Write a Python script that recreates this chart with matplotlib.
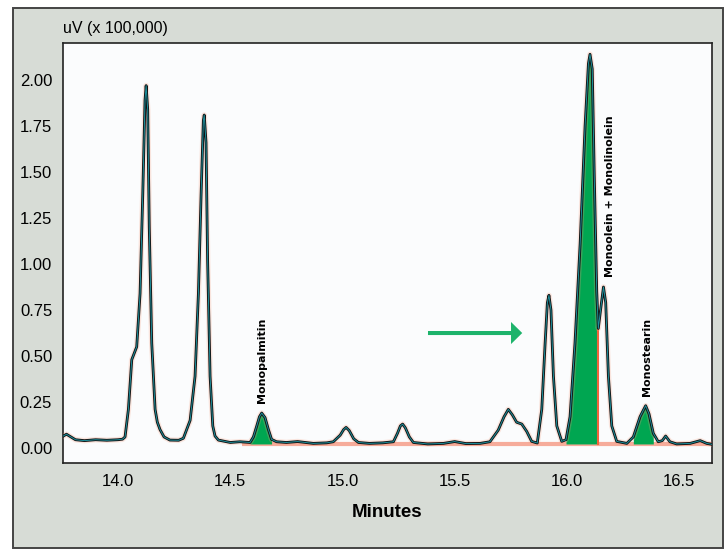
import numpy as np
import matplotlib.pyplot as plt
from matplotlib.patches import Rectangle, FancyArrow

# retention time (min) and detector signal (uV x 100,000)
time = [13.756, 13.770, 13.790, 13.810, 13.850, 13.900, 13.950, 14.000, 14.020,
        14.031, 14.046, 14.061, 14.083, 14.098, 14.110, 14.120, 14.125, 14.132,
        14.139, 14.150, 14.165, 14.175, 14.187, 14.205, 14.231, 14.270, 14.291,
        14.321, 14.343, 14.358, 14.370, 14.380, 14.384, 14.392, 14.399, 14.410,
        14.422, 14.432, 14.447, 14.500, 14.543, 14.588, 14.603, 14.618, 14.630,
        14.640, 14.655, 14.670, 14.684, 14.706, 14.750, 14.800, 14.870, 14.930,
        14.959, 14.990, 15.005, 15.016, 15.030, 15.050, 15.071, 15.120, 15.180,
        15.227, 15.245, 15.258, 15.268, 15.280, 15.298, 15.316, 15.380, 15.450,
        15.500, 15.550, 15.613, 15.657, 15.694, 15.720, 15.739, 15.757, 15.776,
        15.799, 15.821, 15.843, 15.868, 15.888, 15.903, 15.913, 15.920, 15.929,
        15.940, 15.955, 15.977, 15.996, 16.014, 16.036, 16.059, 16.081, 16.096,
        16.103, 16.113, 16.122, 16.133, 16.140, 16.151, 16.163, 16.173, 16.185,
        16.200, 16.222, 16.267, 16.296, 16.326, 16.351, 16.366, 16.385, 16.407,
        16.425, 16.440, 16.459, 16.489, 16.549, 16.594, 16.623, 16.646]
signal = [0.065, 0.075, 0.060, 0.045, 0.040, 0.045, 0.042, 0.045, 0.048,
          0.060, 0.210, 0.480, 0.550, 0.840, 1.380, 1.890, 1.970, 1.840,
          1.200, 0.570, 0.210, 0.140, 0.100, 0.060, 0.043, 0.042, 0.053,
          0.150, 0.390, 0.840, 1.380, 1.780, 1.810, 1.660, 1.020, 0.390,
          0.120, 0.065, 0.043, 0.030, 0.034, 0.030, 0.060, 0.120, 0.170,
          0.190, 0.165, 0.100, 0.047, 0.034, 0.030, 0.035, 0.025, 0.028,
          0.034, 0.070, 0.100, 0.112, 0.095, 0.050, 0.030, 0.025, 0.028,
          0.034, 0.080, 0.120, 0.130, 0.110, 0.060, 0.030, 0.022, 0.025,
          0.035, 0.024, 0.025, 0.034, 0.097, 0.170, 0.210, 0.180, 0.140,
          0.130, 0.090, 0.036, 0.027, 0.210, 0.570, 0.790, 0.830, 0.750,
          0.390, 0.120, 0.036, 0.045, 0.170, 0.570, 1.110, 1.750, 2.090,
          2.140, 2.060, 1.480, 0.850, 0.650, 0.760, 0.875, 0.790, 0.390,
          0.120, 0.036, 0.025, 0.060, 0.170, 0.230, 0.185, 0.080, 0.034,
          0.040, 0.065, 0.034, 0.022, 0.025, 0.040, 0.025, 0.020]

baseline = 0.022

# integrated peaks: start, end, name and where the name goes
peak_start = [14.588, 15.996, 16.296]
peak_end = [14.684, 16.140, 16.385]
peak_names = ['Monopalmitin', 'Monoolein + Monolinolein', 'Monostearin']
label_x = [14.64, 16.192, 16.356]
label_y = [0.245, 0.93, 0.283]

x_ticks = [14.0, 14.5, 15.0, 15.5, 16.0, 16.5]
y_ticks = [0.0, 0.25, 0.5, 0.75, 1.0, 1.25, 1.5, 1.75, 2.0]

plt.rcParams['font.family'] = ['Liberation Sans', 'DejaVu Sans']

t = np.array(time)
s = np.array(signal)

fig = plt.figure(figsize=(7.27, 5.5), dpi=100)
fig.patch.set_facecolor('white')

# grey panel behind the plot
panel = Rectangle((0.0183, 0.0036), 0.9757, 0.9814, transform=fig.transFigure,
                  facecolor='#d7dcd6', edgecolor='#444444', linewidth=1.4, zorder=-5)
fig.patches.append(panel)

ax = fig.add_axes([0.0871, 0.1587, 0.8927, 0.7626])
ax.set_zorder(1)
ax.set_facecolor('#fbfcfd')

# baseline drawn under the trace
ax.plot([14.55, 16.648], [baseline, baseline], color='#f48a72', lw=3, alpha=0.7,
        solid_capstyle='butt', zorder=2)

for a, b in zip(peak_start, peak_end):
    m = (t >= a) & (t <= b)
    ax.fill_between(t[m], s[m], baseline, color='#00a651', lw=0, zorder=3)

# drop line at the end of the main peak
ax.plot([peak_end[1], peak_end[1]], [baseline, s[t == peak_end[1]][0]],
        color='#f0643c', lw=1.5, zorder=3)

ax.plot(t, s, color='#f4a080', lw=4, alpha=0.25, zorder=4)
ax.plot(t, s, color='#111111', lw=2.0, zorder=5)
ax.plot(t, s, color='#1d8f9c', lw=0.7, zorder=6)

for name, lx, ly in zip(peak_names, label_x, label_y):
    ax.text(lx, ly, name, rotation=90, ha='center', va='bottom',
            fontsize=8, fontweight='bold', family=['DejaVu Sans'], zorder=7)

ax.add_patch(FancyArrow(15.381, 0.625, 0.37, 0, width=0.022, head_width=0.12,
                        head_length=0.05, length_includes_head=False,
                        color='#1db36b', lw=0, zorder=7))

ax.set_xlim(13.756, 16.648)
ax.set_ylim(-0.08, 2.2)
ax.set_xticks(x_ticks)
ax.set_xticklabels([f'{v:.1f}' for v in x_ticks])
ax.set_yticks(y_ticks)
ax.set_yticklabels([f'{v:.2f}' for v in y_ticks])
ax.tick_params(length=0, labelsize=12, pad=8)
for sp in ax.spines.values():
    sp.set_color('#222222')
    sp.set_linewidth(1.2)

fig.text(0.0873, 0.949, 'uV (x 100,000)', fontsize=11.5, ha='left', va='center')
fig.text(0.532, 0.069, 'Minutes', fontsize=13.5, fontweight='bold',
         ha='center', va='center')

fig.savefig('out.png', dpi=100)
